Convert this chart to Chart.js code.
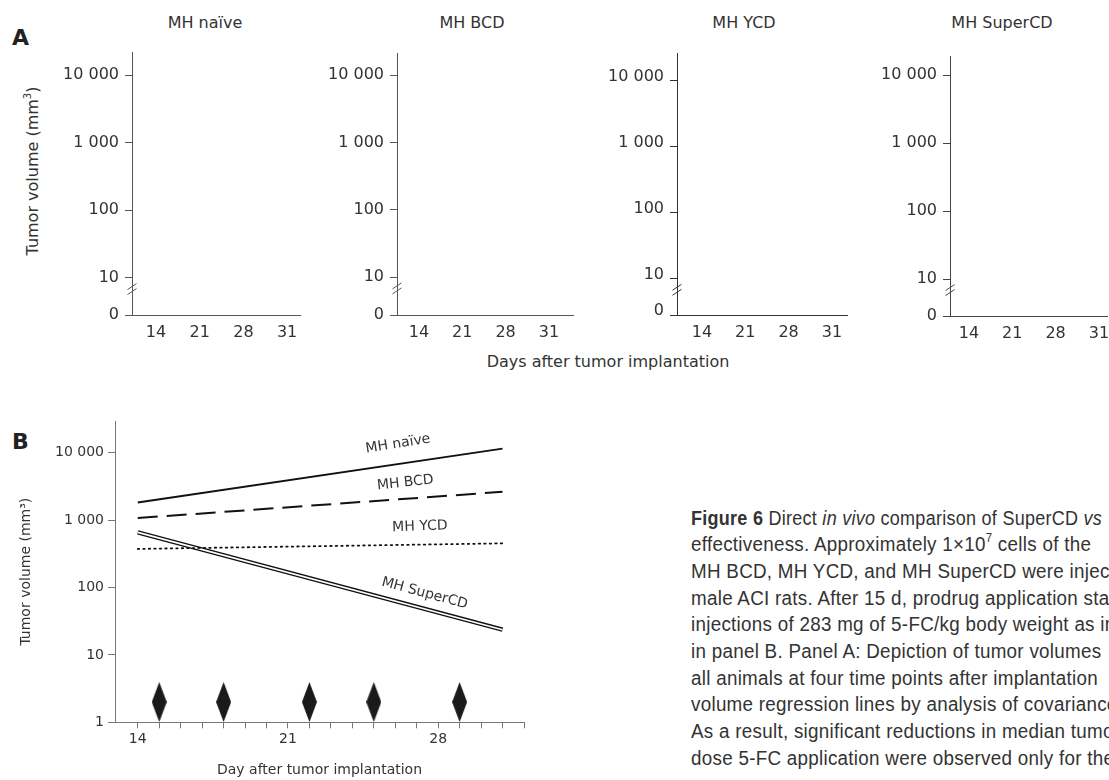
<!DOCTYPE html>
<html>
<head>
<meta charset="utf-8">
<script src="https://cdn.jsdelivr.net/npm/chart.js@4.4.1/dist/chart.umd.min.js"></script>
<style>
  html, body { margin:0; padding:0; background:#fff; }
  body { width:1109px; height:780px; overflow:hidden; position:relative; font-family:'DejaVu Sans', sans-serif; color:#333; }
  canvas { position:absolute; }
  .c { position:absolute; white-space:nowrap; line-height:1; transform:translate(-50%,-50%); }
  .f16 { font-size:16px; }
  .letter { position:absolute; font-weight:bold; font-size:22px; line-height:1; color:#222; transform:translateY(-50%); }
  .rot { transform:translate(-50%,-50%) rotate(-90deg); }
  sup.s { font-size:10px; line-height:0; vertical-align:7px; }
  #cap { position:absolute; left:691px; top:504.7px; width:418px; height:272px; overflow:hidden; }
  #cap .ln { width:620px; height:26.67px; line-height:26.67px; white-space:nowrap; font-family:'Liberation Sans', Arial, sans-serif; font-size:20px; letter-spacing:0.3px; color:#333; transform:scaleX(0.94); transform-origin:left center; }
  #cap .ln.first { transform:scaleX(0.9); }
  #cap sup { font-size:12px; line-height:0; vertical-align:9px; }
</style>
</head>
<body>

<div class="letter" style="left:12px; top:38px;">A</div>
<div class="letter" style="left:12px; top:442px;">B</div>

<div id="titlesA"></div>
<div class="c f16 rot" style="left:33px; top:171px;">Tumor volume (mm<sup class="s">3</sup>)</div>
<div class="c f16" style="left:608px; top:362px;">Days after tumor implantation</div>

<canvas id="pa0" width="310" height="350" style="left:0px; top:0px;"></canvas>
<canvas id="pa1" width="275" height="350" style="left:310px; top:0px;"></canvas>
<canvas id="pa2" width="275" height="350" style="left:585px; top:0px;"></canvas>
<canvas id="pa3" width="260" height="350" style="left:860px; top:0px;"></canvas>
<canvas id="pb" width="545" height="380" style="left:0px; top:400px;"></canvas>

<div id="cap">
  <div class="ln first"><b>Figure 6</b> Direct <i>in vivo</i> comparison of SuperCD <i>vs</i></div>
  <div class="ln">effectiveness. Approximately 1×10<sup>7</sup> cells of the</div>
  <div class="ln">MH BCD, MH YCD, and MH SuperCD were injected</div>
  <div class="ln">male ACI rats. After 15 d, prodrug application started</div>
  <div class="ln">injections of 283 mg of 5-FC/kg body weight as indicated</div>
  <div class="ln">in panel B. Panel A: Depiction of tumor volumes</div>
  <div class="ln">all animals at four time points after implantation</div>
  <div class="ln">volume regression lines by analysis of covariance</div>
  <div class="ln">As a result, significant reductions in median tumor</div>
  <div class="ln">dose 5-FC application were observed only for the</div>
</div>

<script>
// ---------------- DATA ----------------
// Panel A (individual panels, axes only)
const panelNames = ['MH naïve', 'MH BCD', 'MH YCD', 'MH SuperCD'];
const daysA = ['14', '21', '28', '31'];
const yTickValuesA = [0, 10, 100, 1000, 10000];
const yTickLabelsA = ['0', '10', '100', '1 000', '10 000'];

// Panel B (regression lines)
const lineDays = [14, 31];
const naiveB = [1820, 11460];
const bcdB = [1070, 2620];
const ycdB = [373, 451];
const superCDB = [656, 23.6];
const doseDays = [15, 18, 22, 25, 29];
const xTickDaysB = [14, 15, 16, 17, 18, 19, 20, 21, 22, 23, 24, 25, 26, 27, 28, 29, 30, 31, 32];
const xTickLabelDaysB = [14, 21, 28];
const yTickValuesB = [1, 10, 100, 1000, 10000];
const yTickLabelsB = ['1', '10', '100', '1 000', '10 000'];

// ---------------- LAYOUT / STYLE ----------------
const FONT = "'DejaVu Sans', sans-serif";
Chart.defaults.font.family = FONT;
Chart.defaults.color = '#333';

const LAYOUT_A = [
  { cl: 0,   cw: 310, axL: 132, axR: 300,  top: 52, bottom: 315, x0: 156, dx: 43.7, logMin: 0.453, logMax: 4.34,  lo: 0,  col: '#555', tx: 205 },
  { cl: 310, cw: 275, axL: 397, axR: 573,  top: 53, bottom: 315, x0: 419, dx: 43.3, logMin: 0.436, logMax: 4.327, lo: 0,  col: '#555', tx: 472 },
  { cl: 585, cw: 275, axL: 677, axR: 847,  top: 53, bottom: 315, x0: 702, dx: 43.3, logMin: 0.455, logMax: 4.419, lo: -4, col: '#333', tx: 744 },
  { cl: 860, cw: 260, axL: 950, axR: 1107, top: 56, bottom: 316, x0: 969, dx: 43.3, logMin: 0.456, logMax: 4.28,  lo: 0,  col: '#444', tx: 1002 }
];
const CANVAS_A_H = 350;

// panel titles
const titlesDiv = document.getElementById('titlesA');
panelNames.forEach((name, i) => {
  const d = document.createElement('div');
  d.className = 'c f16';
  d.style.left = LAYOUT_A[i].tx + 'px';
  d.style.top = '23px';
  d.textContent = name;
  titlesDiv.appendChild(d);
});

// axis-break "//" marks
const breakPlugin = {
  id: 'axisBreak',
  afterDraw(chart, args, opts) {
    const { ctx } = chart;
    const y = chart.scales.y;
    const x = chart.chartArea.left;
    const y0 = y.getPixelForValue(y.min);
    const y10 = y.getPixelForValue(10);
    const yb = y10 + 0.3 * (y0 - y10);
    ctx.save();
    ctx.strokeStyle = opts.color || '#555';
    ctx.lineWidth = 1;
    [-2.5, 2.5].forEach(off => {
      ctx.beginPath();
      ctx.moveTo(x - 4.5, yb + off + 3);
      ctx.lineTo(x + 4.5, yb + off - 3);
      ctx.stroke();
    });
    ctx.restore();
  }
};

function makePanelA(i) {
  const L = LAYOUT_A[i];
  const xMin = -(L.x0 - L.axL) / L.dx;
  const xMax = (L.axR - L.x0) / L.dx;
  const yMin = Math.pow(10, L.logMin);
  const yMax = Math.pow(10, L.logMax);
  new Chart(document.getElementById('pa' + i), {
    type: 'line',
    data: { datasets: [{ label: panelNames[i], data: [] }] },
    options: {
      responsive: false, animation: false, events: [],
      layout: { padding: { top: L.top, right: L.cl + L.cw - L.axR, left: 0, bottom: 0 } },
      plugins: { legend: { display: false }, tooltip: { enabled: false }, axisBreak: { color: L.col } },
      scales: {
        x: {
          type: 'linear', min: xMin, max: xMax,
          afterBuildTicks: s => { s.ticks = daysA.map((d, k) => ({ value: k })); },
          ticks: { callback: (v, k) => daysA[k], font: { size: 16 }, color: '#333', padding: 8, autoSkip: false, maxRotation: 0 },
          grid: { display: true, drawOnChartArea: false, drawTicks: false },
          border: { display: true, color: L.col, width: 1 },
          afterFit: s => { s.height = CANVAS_A_H - L.bottom; }
        },
        y: {
          type: 'logarithmic', min: yMin, max: yMax, bounds: 'data',
          afterBuildTicks: s => { s.ticks = yTickValuesA.map(v => ({ value: v === 0 ? yMin : v })); },
          ticks: { callback: (v, k) => yTickLabelsA[k], font: { size: 16 }, color: '#333', padding: 6, autoSkip: false, labelOffset: L.lo },
          grid: { display: true, drawOnChartArea: false, drawTicks: true, tickLength: 7, color: L.col },
          border: { display: true, color: L.col, width: 1 },
          afterFit: s => { s.width = L.axL - L.cl; }
        }
      }
    },
    plugins: [breakPlugin]
  });
}
for (let i = 0; i < 4; i++) makePanelA(i);

// ---------------- PANEL B ----------------
const DOSE_MARK_Y = 2;
const diamond = document.createElement('canvas');
diamond.width = 15; diamond.height = 40;
(() => {
  const c = diamond.getContext('2d');
  c.fillStyle = '#1a1a1a';
  c.beginPath();
  c.moveTo(7.5, 0); c.lineTo(15, 20); c.lineTo(7.5, 40); c.lineTo(0, 20); c.closePath();
  c.fill();
})();

const LINE_LABELS = [
  { text: 'MH naïve',   day: 26.13, value: 13450, angle: -9 },
  { text: 'MH BCD',     day: 26.47, value: 3565,  angle: -6 },
  { text: 'MH YCD',     day: 27.15, value: 798,   angle: -2 },
  { text: 'MH SuperCD', day: 27.37, value: 81.5,  angle: 15 }
];
const lineLabelPlugin = {
  id: 'lineLabels',
  afterDatasetsDraw(chart) {
    const { ctx } = chart;
    const x = chart.scales.x, y = chart.scales.y;
    ctx.save();
    ctx.font = "14px " + FONT;
    ctx.fillStyle = '#333';
    ctx.textAlign = 'center';
    ctx.textBaseline = 'middle';
    LINE_LABELS.forEach(l => {
      ctx.save();
      ctx.translate(x.getPixelForValue(l.day), y.getPixelForValue(l.value));
      ctx.rotate(l.angle * Math.PI / 180);
      ctx.fillText(l.text, 0, 0);
      ctx.restore();
    });
    ctx.restore();
  }
};

const pts = arr => lineDays.map((d, k) => ({ x: d, y: arr[k] }));
const B_AXIS = '#777';
new Chart(document.getElementById('pb'), {
  type: 'line',
  data: {
    datasets: [
      { label: 'MH naïve', data: pts(naiveB), borderColor: '#111', borderWidth: 2, pointRadius: 0, order: 0 },
      { label: 'MH BCD', data: pts(bcdB), borderColor: '#111', borderWidth: 2, borderDash: [20, 9], pointRadius: 0, order: 0 },
      { label: 'MH YCD', data: pts(ycdB), borderColor: '#111', borderWidth: 1.8, borderDash: [1.5, 4], borderCapStyle: 'round', pointRadius: 0, order: 0 },
      { label: 'MH SuperCD inner', data: pts(superCDB), borderColor: '#fff', borderWidth: 1.6, pointRadius: 0, order: 1 },
      { label: 'MH SuperCD', data: pts(superCDB), borderColor: '#111', borderWidth: 4.4, pointRadius: 0, order: 2 },
      { label: '5-FC', data: doseDays.map(d => ({ x: d, y: DOSE_MARK_Y })), showLine: false, pointStyle: diamond, pointRadius: 20, clip: false, order: 0 }
    ]
  },
  options: {
    responsive: false, animation: false, events: [],
    layout: { padding: { top: 20, right: 18, left: 0, bottom: 0 } },
    plugins: { legend: { display: false }, tooltip: { enabled: false } },
    scales: {
      x: {
        type: 'linear', min: 12.94, max: 32,
        afterBuildTicks: s => { s.ticks = xTickDaysB.map(d => ({ value: d })); },
        ticks: { callback: v => (xTickLabelDaysB.includes(v) ? String(v) : ''), font: { size: 14 }, color: '#333', padding: 3, autoSkip: false, maxRotation: 0 },
        grid: { display: true, drawOnChartArea: false, drawTicks: true, tickLength: 6, color: B_AXIS },
        border: { display: true, color: B_AXIS, width: 1 },
        title: { display: true, text: 'Day after tumor implantation', font: { size: 14 }, color: '#333', padding: { top: 0, bottom: 1.6 } },
        afterFit: s => { s.height = 380 - 322.3; }
      },
      y: {
        type: 'logarithmic', min: 1, max: 29440, bounds: 'data',
        afterBuildTicks: s => { s.ticks = yTickValuesB.map(v => ({ value: v })); },
        ticks: { callback: (v, k) => yTickLabelsB[k], font: { size: 14 }, color: '#333', padding: 4, autoSkip: false },
        grid: { display: true, drawOnChartArea: false, drawTicks: true, tickLength: 7, color: B_AXIS },
        border: { display: true, color: B_AXIS, width: 1 },
        title: { display: true, text: 'Tumor volume (mm³)', font: { size: 14 }, color: '#333', padding: { top: 18, bottom: 0 } },
        afterFit: s => { s.width = 115; }
      }
    }
  },
  plugins: [lineLabelPlugin]
});
</script>
</body>
</html>
